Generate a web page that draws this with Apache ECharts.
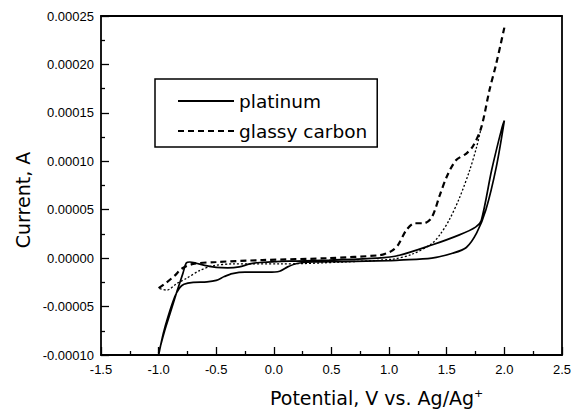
<!DOCTYPE html>
<html>
<head>
<meta charset="utf-8">
<script src="https://cdn.jsdelivr.net/npm/echarts@6/dist/echarts.min.js"></script>
<style>
html,body{margin:0;padding:0;background:#fff;}
#c{width:574px;height:414px;}
</style>
</head>
<body>
<div id="c"></div>
<script>
// Potential (V vs. Ag/Ag+) and current (A)
var platinumV = [-1.00,-0.96,-0.92,-0.86,-0.82,-0.78,-0.70,-0.58,-0.50,-0.43,-0.36,-0.25,-0.05,0.05,0.12,0.20,0.34,0.60,1.00,1.09,1.37,1.55,1.67,1.76,1.84,1.93,2.00,
                 1.98,1.89,1.80,1.75,1.61,1.37,1.09,0.90,0.48,0.20,0.02,-0.12,-0.21,-0.30,-0.40,-0.50,-0.60,-0.68,-0.73,-0.76,-0.79,-0.84,-0.90,-0.95,-1.00];
var platinumI = [-0.000100,-0.000078,-0.000061,-0.000040,-0.000031,-0.000027,-0.000025,-0.0000245,-0.000023,-0.000019,-0.000016,-0.0000145,-0.0000145,-0.0000135,-0.000009,-0.0000055,-0.000004,-0.0000035,-0.0000025,-0.000002,0.000000,0.000005,0.000011,0.000026,0.000050,0.000094,0.000142,
                 0.000135,0.000091,0.000039,0.000032,0.000024,0.0000135,0.000003,0.000000,-0.000002,-0.000003,-0.0000035,-0.0000045,-0.000006,-0.000009,-0.000010,-0.0000095,-0.0000075,-0.000005,-0.000004,-0.000005,-0.000016,-0.000034,-0.000057,-0.000076,-0.000098];

var carbonFwdV = [-1.00,-0.93,-0.86,-0.80,-0.70,-0.50,-0.10,0.48,0.92,0.98,1.03,1.08,1.15,1.22,1.30,1.37,1.44,1.50,1.58,1.67,1.73,1.80,1.87,1.93,2.00];
var carbonFwdI = [-0.000031,-0.000025,-0.000018,-0.000011,-0.000006,-0.000004,-0.000002,0.000000,0.000003,0.000005,0.000008,0.000014,0.000029,0.000036,0.000036,0.000042,0.000065,0.000084,0.000101,0.000108,0.000116,0.000135,0.000173,0.000201,0.000238];

var carbonRevV = [1.80,1.76,1.70,1.61,1.52,1.44,1.37,1.20,1.03,0.60,0.05,-0.36,-0.53,-0.64,-0.76,-0.84,-0.93,-1.00];
var carbonRevI = [0.000135,0.000115,0.000091,0.000062,0.000039,0.000024,0.000015,0.000004,-0.000001,-0.000004,-0.000006,-0.000006,-0.000008,-0.0000125,-0.000021,-0.000026,-0.000033,-0.000031];

var xTicks = [-1.5,-1.0,-0.5,0.0,0.5,1.0,1.5,2.0,2.5];
var yTicks = [-0.00010,-0.00005,0.00000,0.00005,0.00010,0.00015,0.00020,0.00025];
var legendNames = ['platinum','glassy carbon'];

function pairs(xs, ys){ return xs.map(function(x,i){ return [x, ys[i]]; }); }

var chart = echarts.init(document.getElementById('c'), null, {renderer:'svg'});
var axisText = {color:'#000', fontFamily:'"Liberation Sans", Arial, sans-serif', fontSize:13};
chart.setOption({
  animation:false,
  backgroundColor:'#fff',
  grid:{left:101, right:10, top:16, bottom:59},
  legend:{
    data:legendNames.map(function(n){ return {name:n, itemStyle:{opacity:0}}; }),
    orient:'vertical', left:155, top:79,
    padding:[12,10,6,22], itemGap:10, itemWidth:56, itemHeight:14,
    borderColor:'#000', borderWidth:1.5, itemStyle:{opacity:0},
    textStyle:{color:'#000', fontFamily:'"DejaVu Sans", sans-serif', fontSize:18.5, lineHeight:20}
  },
  xAxis:[{
    type:'value', min:xTicks[0], max:xTicks[xTicks.length-1], interval:0.5,
    axisLine:{onZero:false, lineStyle:{color:'#000', width:1.8}},
    axisTick:{inside:true, length:8, lineStyle:{color:'#000', width:1.3}},
    minorTick:{show:true, splitNumber:2, length:4, lineStyle:{color:'#000', width:1.3}},
    splitLine:{show:false},
    axisLabel:Object.assign({margin:8, formatter:function(v){return v.toFixed(1);}}, axisText)
  },{
    type:'value', position:'top', min:xTicks[0], max:xTicks[xTicks.length-1], interval:0.5,
    axisLine:{show:true, onZero:false, lineStyle:{color:'#000', width:1.8}}, axisTick:{show:false}, axisLabel:{show:false}, splitLine:{show:false}
  }],
  yAxis:[{
    type:'value', min:yTicks[0], max:yTicks[yTicks.length-1], interval:0.00005,
    axisLine:{show:true, onZero:false, lineStyle:{color:'#000', width:1.8}},
    axisTick:{show:true, inside:true, length:8, lineStyle:{color:'#000', width:1.3}},
    minorTick:{show:true, splitNumber:2, length:4, lineStyle:{color:'#000', width:1.3}},
    splitLine:{show:false},
    axisLabel:Object.assign({margin:7, formatter:function(v){return v.toFixed(5);}}, axisText)
  },{
    type:'value', position:'right', min:yTicks[0], max:yTicks[yTicks.length-1], interval:0.00005,
    axisLine:{show:true, onZero:false, lineStyle:{color:'#000', width:1.8}}, axisTick:{show:false}, axisLabel:{show:false}, splitLine:{show:false}
  }],
  graphic:[
    {type:'text', x:23, y:200, rotation:Math.PI/2, style:{text:'Current, A', align:'center', verticalAlign:'middle', fill:'#000', font:'19px "DejaVu Sans", sans-serif'}},
    {type:'text', x:270, y:398, style:{text:'Potential, V vs. Ag/Ag{s|+}', align:'left', verticalAlign:'middle', fill:'#000', font:'19px "DejaVu Sans", sans-serif',
      rich:{s:{fontSize:11, fontFamily:'"DejaVu Sans", sans-serif', fill:'#000', padding:[0,0,10,0]}}}}
  ],
  series:[
    {name:legendNames[0], type:'line', data:pairs(platinumV, platinumI), symbol:'none', smooth:0.3,
     lineStyle:{color:'#000', width:1.7, type:'solid'}, itemStyle:{color:'#000'}},
    {name:legendNames[1], type:'line', data:pairs(carbonFwdV, carbonFwdI), symbol:'none', smooth:0.3,
     lineStyle:{color:'#000', width:2.2, type:[6,4]}, itemStyle:{color:'#000'}},
    {name:'glassy carbon (return)', type:'line', data:pairs(carbonRevV, carbonRevI), symbol:'none', smooth:0.3,
     lineStyle:{color:'#000', width:1.3, type:[2,2]}, itemStyle:{color:'#000'}}
  ]
});
</script>
</body>
</html>
